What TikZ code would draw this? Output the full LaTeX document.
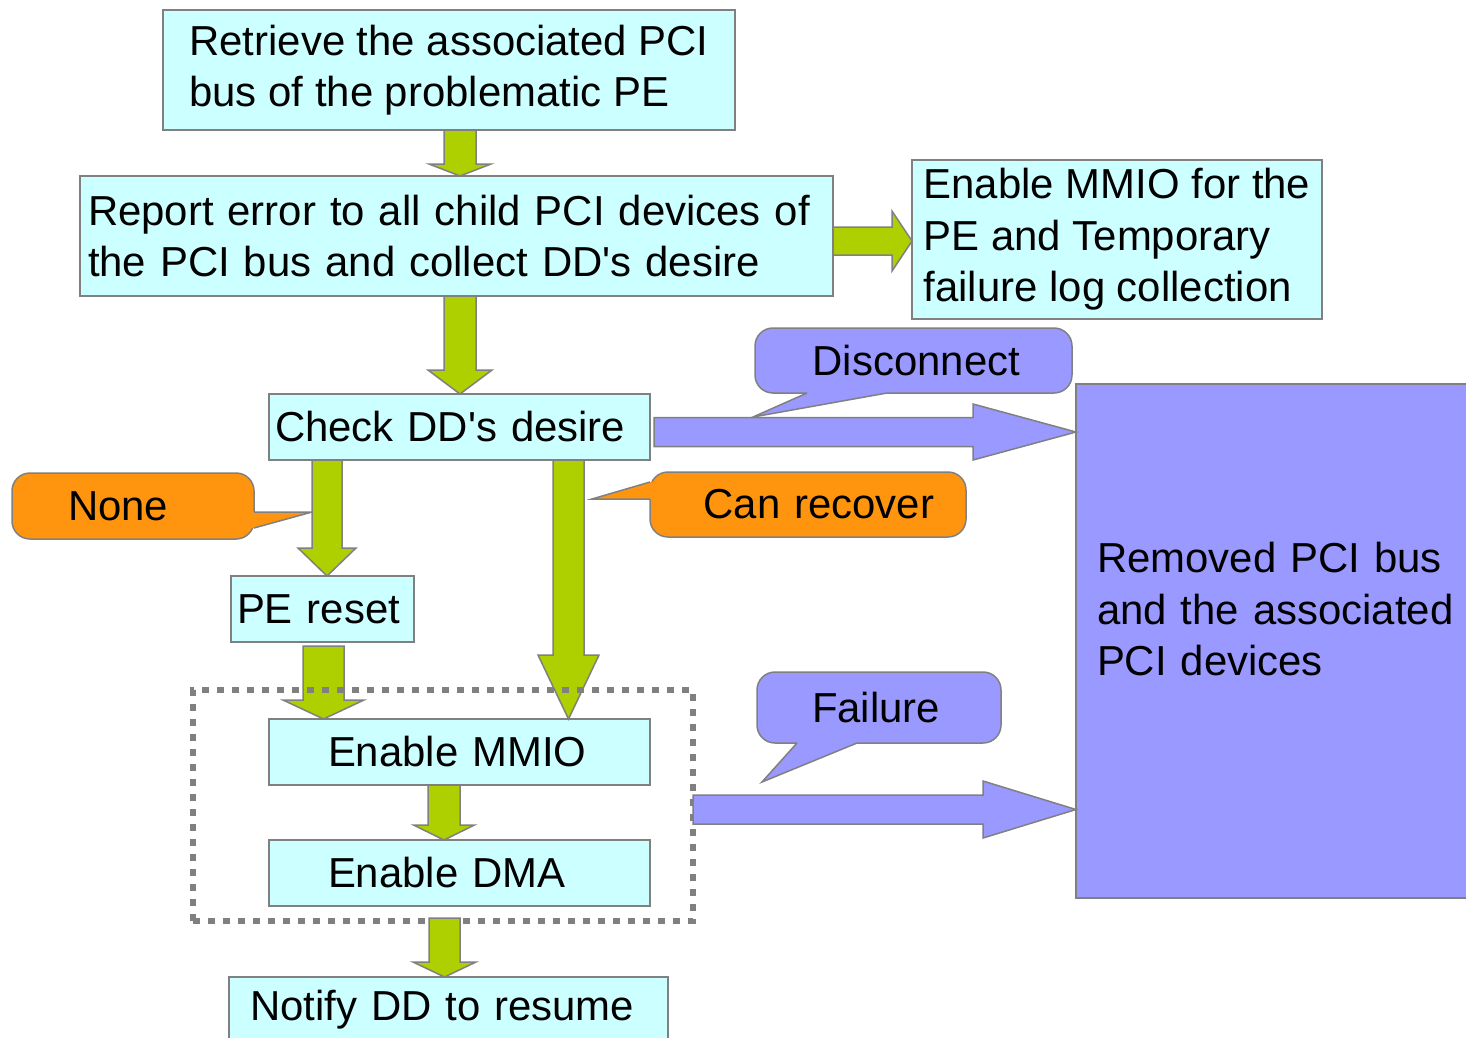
\documentclass[tikz,border=0pt]{standalone}
\usepackage{fontspec}
\setmainfont{Liberation Sans}[Ligatures=TeXOff]
\usetikzlibrary{calc}

\definecolor{boxcyan}{HTML}{CCFFFF}
\definecolor{linegray}{HTML}{808080}
\definecolor{arrowgreen}{HTML}{AECF00}
\definecolor{failblue}{HTML}{9999FF}
\definecolor{noneorange}{HTML}{FF950E}

\tikzset{
  stepbox/.style={draw=linegray, fill=boxcyan, line width=1.5pt, anchor=north west,
    inner ysep=0pt, outer sep=0pt, align=left},
  greenarrow/.style={draw=linegray, fill=arrowgreen, line width=1.5pt},
  bluearrow/.style={draw=linegray, fill=failblue, line width=1.5pt},
  callout/.style={draw=linegray, line width=1.5pt, rounded corners=18pt,
    anchor=north west, inner ysep=0pt, outer sep=0pt},
  pointer/.style={draw=linegray, line width=1.5pt},
  dotframe/.style={draw=linegray, line width=6pt, dash pattern=on 7pt off 8pt,
    anchor=north west, inner sep=0pt, outer sep=0pt},
}

% fat block arrows: start point, target node anchor, half shaft, half head, head length
\newcommand{\fatdown}[6][greenarrow]{%
  \draw[#1] let \p1=(#2), \p2=(#3) in
    (\x1-#4,\y1) -- (\x1+#4,\y1) -- (\x1+#4,\y2+#6) -- (\x1+#5,\y2+#6)
    -- (\x1,\y2) -- (\x1-#5,\y2+#6) -- (\x1-#4,\y2+#6) -- cycle;}
\newcommand{\fatright}[6][greenarrow]{%
  \draw[#1] let \p1=(#2), \p2=(#3) in
    (\x1,\y1+#4) -- (\x2-#6,\y1+#4) -- (\x2-#6,\y1+#5) -- (\x2,\y1)
    -- (\x2-#6,\y1-#5) -- (\x2-#6,\y1-#4) -- (\x1,\y1-#4) -- cycle;}

\begin{document}
\begin{tikzpicture}[x=1pt, y=-1pt, font=\fontsize{41.9}{51.5}\selectfont]
  \clip (0,0) rectangle (1466,1037);
  \fill[white] (0,0) rectangle (1466,1037);

  % steps
  \node[stepbox, minimum width=572pt, minimum height=120pt] (retrieve) at (163,10)
    {Retrieve the associated PCI\\bus of the problematic PE};
  \node[stepbox, text width=737pt, inner xsep=8pt, minimum height=120pt] (report) at (80,176)
    {Report error to all child PCI devices of\\the PCI bus and collect DD's desire};
  \node[stepbox, minimum width=410pt, minimum height=159pt] (mmiolog) at (912,160)
    {Enable MMIO for the\\PE and Temporary\\failure log collection};
  \node[stepbox, text width=369pt, inner xsep=6pt, minimum height=66pt] (check) at (269,394)
    {Check DD's desire};
  \node[stepbox, text width=171pt, inner xsep=6pt, minimum height=66pt] (pereset) at (231,576)
    {PE reset};
  \node[stepbox, text width=263pt, inner xsep=59pt, minimum height=66pt] (enmmio) at (269,719)
    {Enable MMIO};
  \node[stepbox, text width=263pt, inner xsep=59pt, minimum height=66pt] (endma) at (269,840)
    {Enable DMA};
  \node[stepbox, text width=397pt, inner xsep=21pt, minimum height=66pt] (notify) at (229,977)
    {Notify DD to resume};
  \node[stepbox, fill=failblue, text width=382pt, inner xsep=21pt, minimum height=514pt,
    text depth=167pt] (removed) at (1076,384)
    {Removed PCI bus\\and the associated\\PCI devices};

  % callouts
  \node[callout, fill=failblue, text width=213pt, inner xsep=52pt, align=right,
    minimum height=65pt] (disconnect) at (755,328) {Disconnect};
  \coordinate (disconnect tip) at (753,417);
  \fill[failblue] ([xshift=52pt,yshift=3pt]disconnect.south west) -- ([xshift=52pt]disconnect.south west)
    -- (disconnect tip) -- ([xshift=132pt]disconnect.south west)
    -- ([xshift=132pt,yshift=3pt]disconnect.south west) -- cycle;
  \draw[pointer] ([xshift=52pt]disconnect.south west) -- (disconnect tip)
    -- ([xshift=132pt]disconnect.south west);

  \node[callout, fill=noneorange, text width=130pt, inner xsep=56pt, align=left,
    minimum height=66pt] (none) at (12,473) {None};
  \coordinate (none tip) at (312,512);
  \fill[noneorange] ([xshift=-3pt,yshift=-39pt]none.north east) -- ([yshift=-39pt]none.north east)
    -- (none tip) -- ([yshift=-55pt]none.north east)
    -- ([xshift=-3pt,yshift=-55pt]none.north east) -- cycle;
  \draw[pointer] ([yshift=-39pt]none.north east) -- (none tip) -- ([yshift=-55pt]none.north east);

  \node[callout, fill=noneorange, text width=252pt, inner xsep=32pt, align=right,
    minimum height=65pt] (recover) at (650,472) {Can recover};
  \coordinate (recover tip) at (592,499);
  \fill[noneorange] ([xshift=3pt,yshift=-10pt]recover.north west) -- ([yshift=-10pt]recover.north west)
    -- (recover tip) -- ([yshift=-27pt]recover.north west)
    -- ([xshift=3pt,yshift=-27pt]recover.north west) -- cycle;
  \draw[pointer] ([yshift=-10pt]recover.north west) -- (recover tip) -- ([yshift=-27pt]recover.north west);

  \node[callout, fill=failblue, text width=134pt, inner xsep=55pt, align=left,
    minimum height=71pt] (failure) at (757,672) {Failure};
  \coordinate (failure tip) at (762,782);
  \fill[failblue] ([xshift=40pt,yshift=3pt]failure.south west) -- ([xshift=40pt]failure.south west)
    -- (failure tip) -- ([xshift=100pt]failure.south west)
    -- ([xshift=100pt,yshift=3pt]failure.south west) -- cycle;
  \draw[pointer] ([xshift=40pt]failure.south west) -- (failure tip)
    -- ([xshift=100pt]failure.south west);

  % arrows
  \fatdown{[xshift=11pt]retrieve.south}{report.north}{16pt}{31pt}{12pt}
  \fatright{[yshift=-5pt]report.east}{mmiolog.west}{14pt}{30pt}{20pt}
  \fatdown{[xshift=3.5pt]report.south}{check.north}{16pt}{32pt}{24pt}
  \fatright[bluearrow]{[xshift=4pt,yshift=-5pt]check.east}{removed.west}{14.5pt}{28pt}{103pt}
  \fatdown{[xshift=-132.5pt]check.south}{pereset.north}{15pt}{29pt}{28pt}
  \fatdown{[xshift=109pt]check.south}{enmmio.north}{15.5pt}{30.5pt}{64pt}
  \fatdown{[xshift=1pt,yshift=-4pt]pereset.south}{enmmio.north}{20.5pt}{40.5pt}{19pt}
  \fatdown{[xshift=-15.5pt]enmmio.south}{endma.north}{16pt}{30.5pt}{15pt}

  \node[dotframe, minimum width=500pt, minimum height=231pt] (recovery) at (193,690) {};

  \fatdown{[xshift=1.5pt,yshift=3pt]recovery.south}{notify.north}{15.5pt}{31.5pt}{15pt}
  \fatright[bluearrow]{[yshift=-4pt]recovery.east}{removed.west}{14.5pt}{28.5pt}{93pt}
\end{tikzpicture}
\end{document}
